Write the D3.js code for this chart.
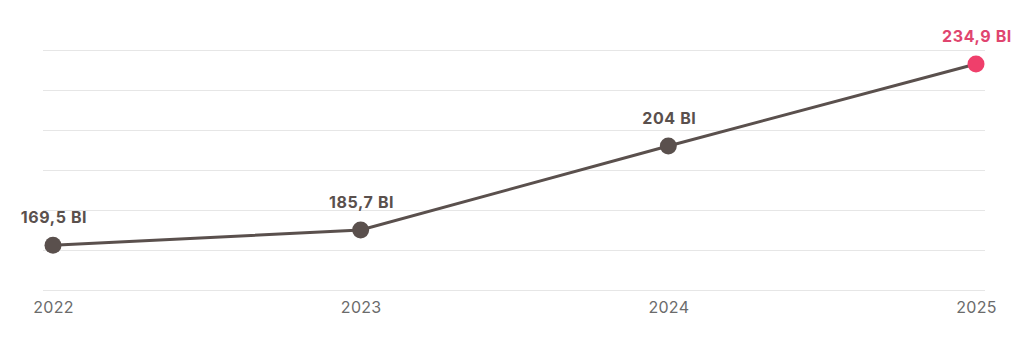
<!DOCTYPE html>
<html><head><meta charset="utf-8">
<script src="https://cdn.jsdelivr.net/npm/d3@7"></script>
<style>
html,body{margin:0;padding:0;background:#fff;}
svg{display:block;}
</style></head>
<body>
<svg id="chart" width="1024" height="341"></svg>
<script>
// Data
const years = ["2022", "2023", "2024", "2025"];
const valueLabels = ["169,5 BI", "185,7 BI", "204 BI", "234,9 BI"];
// plotted position of each point on the (hidden) y axis, in gridline steps
const levels = [1.12, 1.5, 3.6, 5.65];
const gridTicks = [0, 1, 2, 3, 4, 5, 6];

const svg = d3.select("#chart");

const x = d3.scalePoint().domain(years).range([53, 976]);
const y = d3.scaleLinear().domain([0, 6]).range([290, 50]);

// gridlines
const yAxis = d3.axisLeft(y).tickValues(gridTicks).tickSize(-(985 - 43)).tickFormat("");
const gy = svg.append("g").attr("transform", "translate(43,0)").call(yAxis);
gy.select(".domain").remove();
gy.selectAll(".tick line").attr("stroke", "#e6e6e6").attr("stroke-width", 1);

// x axis labels
const xAxis = d3.axisBottom(x).tickSize(0).tickPadding(0);
const gx = svg.append("g").attr("transform", "translate(0,298)").call(xAxis);
gx.select(".domain").remove();
gx.selectAll(".tick text")
  .attr("font-family", "Inter, 'Open Sans', sans-serif")
  .attr("font-size", 16)
  .attr("letter-spacing", 0.3)
  .attr("fill", "#6b6b6b")
  .attr("dy", "0.95em");

const data = years.map((yr, i) => ({year: yr, level: levels[i], label: valueLabels[i], last: i === years.length - 1}));

// line
const line = d3.line().x(d => x(d.year)).y(d => y(d.level));
svg.append("path").datum(data)
  .attr("d", line)
  .attr("fill", "none")
  .attr("stroke", "#5a504d")
  .attr("stroke-width", 3);

// points
svg.selectAll("circle.pt").data(data).join("circle")
  .attr("class", "pt")
  .attr("cx", d => x(d.year))
  .attr("cy", d => y(d.level))
  .attr("r", 8.5)
  .attr("fill", d => d.last ? "#ef3f6b" : "#5a504d");

// value labels
svg.selectAll("text.lbl").data(data).join("text")
  .attr("class", "lbl")
  .attr("x", d => x(d.year) + 1)
  .attr("y", d => y(d.level) - 22)
  .attr("text-anchor", "middle")
  .attr("font-family", "Inter, 'Open Sans', sans-serif")
  .attr("font-weight", 700)
  .attr("font-size", 16)
  .attr("letter-spacing", 0.6)
  .attr("fill", d => d.last ? "#e0456f" : "#5a504d")
  .text(d => d.label);
</script>
</body></html>
